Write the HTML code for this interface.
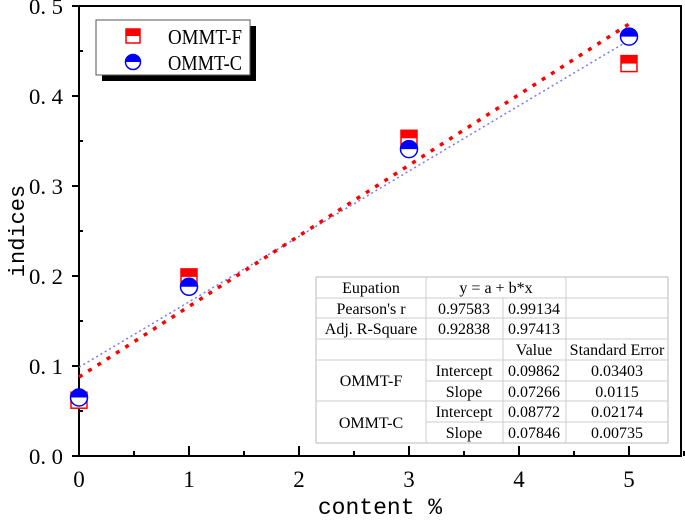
<!DOCTYPE html>
<html><head><meta charset="utf-8"><style>
body{margin:0;background:#fff}
svg{display:block}
</style></head><body>
<svg id="chart" width="685" height="524" viewBox="0 0 685 524" xmlns="http://www.w3.org/2000/svg">
<rect x="79" y="6" width="602" height="450" fill="#fff" stroke="#000" stroke-width="2"/>
<g id="axes"></g>
<g id="lines"></g>
<g id="points"></g>
<g>
<rect x="102" y="26" width="154" height="55" fill="#000"/>
<rect x="96" y="20" width="154" height="55" fill="#fff" stroke="#555" stroke-width="1"/>
<g>
<rect x="126" y="29" width="14" height="14" fill="#fff" stroke="#f00" stroke-width="1.5"/><rect x="126" y="29" width="14" height="7" fill="#f00"/>
<text x="168" y="44" font-family="Liberation Serif, serif" font-size="21" textLength="74" lengthAdjust="spacingAndGlyphs">OMMT-F</text></g>
<g>
<circle cx="133" cy="62" r="7.5" fill="#fff" stroke="#00f" stroke-width="1.5"/><path d="M125.5 62 A7.5 7.5 0 0 1 140.5 62 Z" fill="#00f"/>
<text x="168" y="70" font-family="Liberation Serif, serif" font-size="21" textLength="74" lengthAdjust="spacingAndGlyphs">OMMT-C</text></g>
</g>
<text x="380" y="514" text-anchor="middle" font-family="Liberation Mono, monospace" font-size="23">content %</text>
<text transform="translate(24,231) rotate(-90)" text-anchor="middle" font-family="Liberation Mono, monospace" font-size="22">indices</text>
<g font-family="Liberation Serif, serif" font-size="16" text-anchor="middle">
<rect x="316" y="277" width="352" height="166" fill="#fff" stroke="#bbb" stroke-width="1"/>
<g stroke="#ccc" stroke-width="1">
<line x1="426" y1="277" x2="426" y2="443"/><line x1="503" y1="298" x2="503" y2="443"/><line x1="566" y1="277" x2="566" y2="443"/>
<line x1="316" y1="298" x2="668" y2="298"/><line x1="316" y1="318" x2="668" y2="318"/><line x1="316" y1="339" x2="668" y2="339"/>
<line x1="316" y1="360" x2="668" y2="360"/><line x1="426" y1="381" x2="668" y2="381"/><line x1="316" y1="401" x2="668" y2="401"/><line x1="426" y1="422" x2="668" y2="422"/>
</g>
<text x="371" y="293">Eupation</text><text x="496" y="293">y = a + b*x</text>
<text x="371" y="314">Pearson's r</text><text x="464" y="314">0.97583</text><text x="534" y="314">0.99134</text>
<text x="371" y="334">Adj. R-Square</text><text x="464" y="334">0.92838</text><text x="534" y="334">0.97413</text>
<text x="534" y="355">Value</text><text x="617" y="355">Standard Error</text>
<text x="371" y="386">OMMT-F</text><text x="464" y="376">Intercept</text><text x="534" y="376">0.09862</text><text x="617" y="376">0.03403</text>
<text x="464" y="397">Slope</text><text x="534" y="397">0.07266</text><text x="617" y="397">0.0115</text>
<text x="371" y="428">OMMT-C</text><text x="464" y="417">Intercept</text><text x="534" y="417">0.08772</text><text x="617" y="417">0.02174</text>
<text x="464" y="438">Slope</text><text x="534" y="438">0.07846</text><text x="617" y="438">0.00735</text>
</g>
</svg>
<script>
const categories=[0,1,3,5];
const seriesF=[0.062,0.199,0.353,0.436];
const seriesC=[0.065,0.188,0.341,0.466];
const fitF=[0.09862,0.07266];
const fitC=[0.08772,0.07846];
const xTicks=[0,1,2,3,4,5];
const yTicks=[0,0.1,0.2,0.3,0.4,0.5];
const yTickLabels=["0. 0","0. 1","0. 2","0. 3","0. 4","0. 5"];
const NS="http://www.w3.org/2000/svg";
const X=v=>79+v*110, Y=v=>456-v*900;
function mk(t,a,p){const e=document.createElementNS(NS,t);for(const k in a)e.setAttribute(k,a[k]);p.appendChild(e);return e;}
const ax=document.getElementById('axes');
xTicks.forEach(v=>{
 const l=mk('line',{x1:X(v),y1:456,x2:X(v),y2:446,stroke:'#000','stroke-width':2},ax);
 
 
 const m=mk('line',{x1:X(v+0.5),y1:456,x2:X(v+0.5),y2:451,stroke:'#000','stroke-width':2},ax);
 
 
 const t=mk('text',{x:X(v),y:487,'text-anchor':'middle','font-family':'Liberation Serif, serif','font-size':23},ax);
 t.textContent=v;
 
 
});
yTicks.forEach((v,i)=>{
 const l=mk('line',{x1:72,y1:Y(v),x2:79,y2:Y(v),stroke:'#000','stroke-width':2},ax);
 
 
 if(v<0.5){const m=mk('line',{x1:79,y1:Y(v+0.05),x2:83,y2:Y(v+0.05),stroke:'#000','stroke-width':2},ax);
 
 }
 const t=mk('text',{x:63,y:Y(v)+8,'text-anchor':'end','font-family':'Liberation Serif, serif','font-size':22,textLength:34,lengthAdjust:'spacingAndGlyphs'},ax);
 t.textContent=yTickLabels[i];
 
 
});
const ln=document.getElementById('lines');
const lb=mk('line',{x1:X(0),y1:Y(fitF[0]),x2:X(5),y2:Y(fitF[0]+5*fitF[1]),stroke:'#77f','stroke-width':1.5,'stroke-dasharray':'2 3'},ln);


const lr=mk('line',{x1:X(0),y1:Y(fitC[0]),x2:X(5),y2:Y(fitC[0]+5*fitC[1]),stroke:'#f00','stroke-width':3.5,'stroke-dasharray':'4 7'},ln);


const pt=document.getElementById('points');
categories.forEach((c,i)=>{
 const g=mk('g',{},pt);
 
 
 const x=X(c),y=Y(seriesF[i]);
 mk('rect',{x:x-8,y:y-8,width:16,height:16,fill:'#fff',stroke:'#f00','stroke-width':1.5},g);
 mk('rect',{x:x-8,y:y-8,width:16,height:8,fill:'#f00'},g);
});
categories.forEach((c,i)=>{
 const g=mk('g',{},pt);
 
 
 const x=X(c),y=Y(seriesC[i]);
 mk('circle',{cx:x,cy:y,r:8.5,fill:'#fff',stroke:'#00f','stroke-width':1.5},g);
 mk('path',{d:`M${x-8.5} ${y} A8.5 8.5 0 0 1 ${x+8.5} ${y} Z`,fill:'#00f'},g);
});
</script>
</body></html>
